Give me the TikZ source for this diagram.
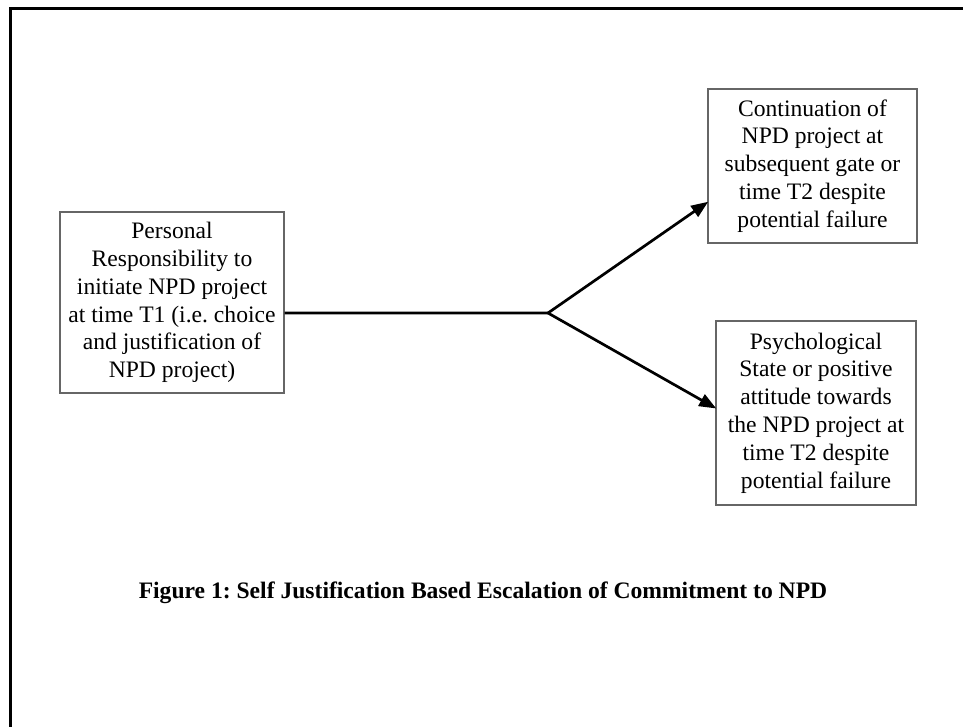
\documentclass[tikz,border=0pt]{standalone}
\usepackage{fontspec}
\setmainfont{Liberation Serif}
\usetikzlibrary{arrows.meta,calc}
\frenchspacing
\begin{document}
\begin{tikzpicture}[x=1pt,y=-1pt,
  box/.style={draw=black!60,line width=1.3pt,inner sep=0pt,align=center,
    font=\frenchspacing\fontsize{23.6}{27.8}\selectfont},
  conn/.style={line width=2.7pt,black},
  arr/.style={conn,-{Triangle[length=17pt,width=13pt]},shorten >=-1pt},
  frame/.style={line width=3pt,black}]
\useasboundingbox (0,0) rectangle (963,727);
\fill[white] (0,0) rectangle (963,727);
\draw[frame] (10.5,727) -- (10.5,8.5) -- (963,8.5);
\node[box,minimum width=224pt,minimum height=181pt] (L) at (172,302.5)
  {Personal\\Responsibility to\\initiate NPD project\\at time T1 (i.e. choice\\and justification of\\NPD project)};
\node[box,minimum width=209pt,minimum height=154pt] (T) at (812.5,166)
  {Continuation of\\NPD project at\\subsequent gate or\\time T2 despite\\potential failure};
\node[box,minimum width=200pt,minimum height=184pt] (B) at (816,413)
  {Psychological\\State or positive\\attitude towards\\the NPD project at\\time T2 despite\\potential failure};
\coordinate (J) at (548,313);
\node[font=\frenchspacing\fontsize{23.6}{28}\bfseries\selectfont] (cap) at (483,593)
  {Figure 1: Self Justification Based Escalation of Commitment to NPD};
\draw[conn] ($(L.north east)!0.558!(L.south east)$) -- (J);
\draw[arr] (J) -- ($(T.south west)!0.266!(T.north west)$);
\draw[arr] (J) -- ($(B.north west)!0.473!(B.south west)$);
\end{tikzpicture}
\end{document}
